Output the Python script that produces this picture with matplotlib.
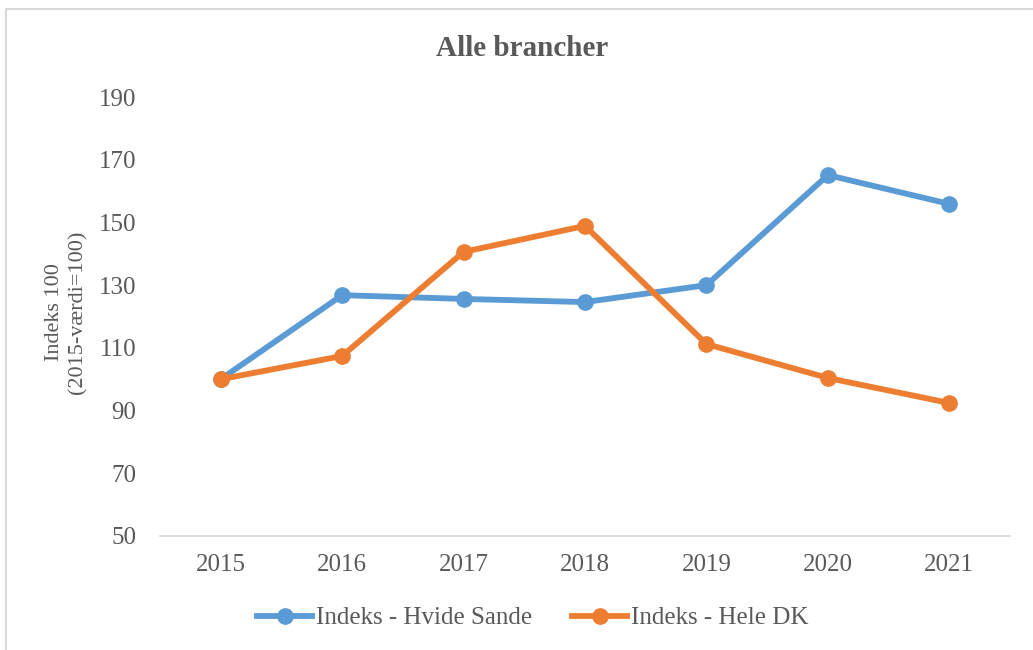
import matplotlib
matplotlib.use("Agg")
from matplotlib import pyplot as plt
from matplotlib.patches import Rectangle

years = ["2015", "2016", "2017", "2018", "2019", "2020", "2021"]
hvide_sande = [100, 126.8, 125.6, 124.6, 130.0, 165.1, 155.9]
hele_dk = [100, 107.4, 140.6, 148.9, 111.2, 100.4, 92.4]
y_ticks = [50, 70, 90, 110, 130, 150, 170, 190]

plt.rcParams['font.family'] = ['Liberation Serif', 'DejaVu Serif']
text_color = '#595959'

fig = plt.figure(figsize=(10.33, 6.5), dpi=100)
ax = fig.add_axes([160 / 1033, 1 - 536 / 650, 850 / 1033, 439 / 650])

x = range(len(years))
ax.plot(x, hvide_sande, color='#5B9BD5', lw=4.2, marker='o', ms=11,
        label='Indeks - Hvide Sande', solid_joinstyle='round')
ax.plot(x, hele_dk, color='#ED7D31', lw=4.2, marker='o', ms=11,
        label='Indeks - Hele DK', solid_joinstyle='round')

ax.set_xlim(-0.5, len(years) - 0.5)
ax.set_ylim(50, 190)
ax.set_xticks(list(x))
ax.set_xticklabels(years)
ax.set_yticks(y_ticks)
ax.tick_params(axis='both', length=0, labelsize=18, colors=text_color)
ax.tick_params(axis='y', pad=17)
ax.tick_params(axis='x', pad=13)

for s in ['top', 'right', 'left']:
    ax.spines[s].set_visible(False)
ax.spines['bottom'].set_color('#D9D9D9')
ax.spines['bottom'].set_linewidth(1.2)

ax.set_ylabel('Indeks 100\n(2015-værdi=100)', fontsize=16, color=text_color,
              linespacing=1.3)
ax.yaxis.set_label_coords(-0.085, 0.51)

fig.text(0.505, 1 - 48 / 650, 'Alle brancher', ha='center', va='center',
         fontsize=21, fontweight='bold', color=text_color)

leg = fig.legend(loc='center', bbox_to_anchor=(533 / 1033, 1 - 618 / 650),
                 ncol=2, frameon=False, fontsize=18, handlelength=2.2,
                 handletextpad=0.15, columnspacing=1.6)
for t in leg.get_texts():
    t.set_color(text_color)

# chart border
fig.add_artist(Rectangle((6 / 1033, -0.1), 1.2, 0.1 + 1 - 9 / 650,
                         transform=fig.transFigure, fill=False,
                         edgecolor='#D9D9D9', lw=1.5))

fig.savefig('out.png', dpi=100)
